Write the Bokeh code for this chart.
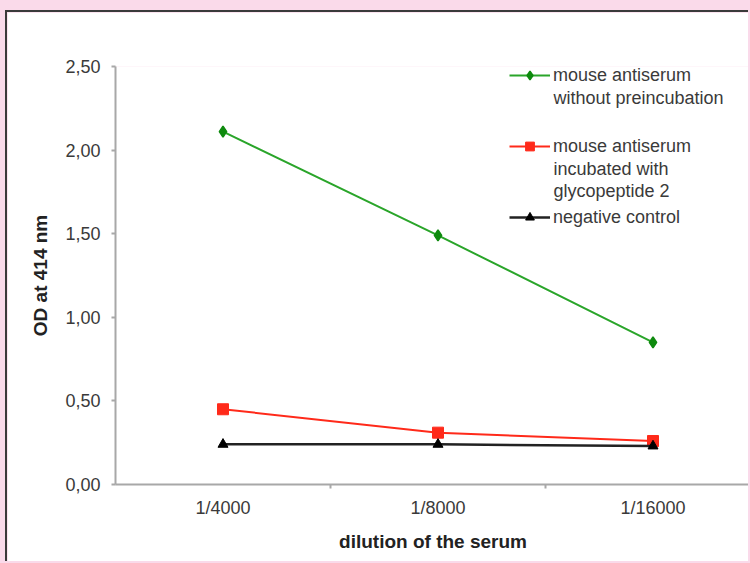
from bokeh.plotting import figure
from bokeh.models import Range1d, FixedTicker, Legend, LegendItem, Label
from bokeh.layouts import column
from bokeh.embed import file_html
from bokeh.resources import INLINE

# ---- data ----
categories = ["1/4000", "1/8000", "1/16000"]
green_values = [2.11, 1.49, 0.85]
red_values = [0.45, 0.31, 0.26]
black_values = [0.24, 0.24, 0.23]
y_ticks = [0.0, 0.5, 1.0, 1.5, 2.0, 2.5]
y_tick_labels = ["0,00", "0,50", "1,00", "1,50", "2,00", "2,50"]
green_label = ["mouse antiserum", "without preincubation"]
red_label = ["mouse antiserum", "incubated with", "glycopeptide 2"]
black_label = ["negative control"]
x_title = "dilution of the serum"
y_title = "OD at 414 nm"

# ---- style ----
FONT = "Liberation Sans"
PINK = "#fadaea"
TXT = "#3a3a3a"
AXIS = "#a8a8a8"
GREEN_LINE = "#2aa52a"
GREEN_MARK = "#0e8a0e"
RED = "#ff2a1a"
BLACK = "#222222"

CAT_PX = 215          # pixel width of one category slot
FIG_W, FIG_H = 743, 551
MB_LEFT, MB_TOP, MB_BOTTOM = 108, 54, 79
FRAME_W = FIG_W - MB_LEFT
FRAME_H = FIG_H - MB_TOP - MB_BOTTOM

x_pos = [i + 0.5 for i in range(len(categories))]

p = figure(width=FIG_W, height=FIG_H,
           x_range=Range1d(0, FRAME_W / CAT_PX), y_range=Range1d(0, 2.5),
           output_backend="svg", toolbar_location=None,
           min_border_left=MB_LEFT, min_border_top=MB_TOP,
           min_border_bottom=MB_BOTTOM, min_border_right=0,
           background_fill_color="white", border_fill_color="white")
p.outline_line_color = None
p.grid.visible = False

# lines + markers
gl = p.line(x_pos, green_values, line_color=GREEN_LINE, line_width=2)
gm = p.scatter(x_pos, green_values, marker="diamond", size=11,
               fill_color=GREEN_MARK, line_color=GREEN_MARK, line_width=1.5)
rl = p.line(x_pos, red_values, line_color=RED, line_width=2)
rm = p.scatter(x_pos, red_values, marker="square", size=11,
               fill_color=RED, line_color=RED)
bl = p.line(x_pos, black_values, line_color=BLACK, line_width=2.5)
bm = p.scatter(x_pos, black_values, marker="triangle", size=10,
               fill_color="black", line_color="black")

# x axis
xa = p.xaxis[0]
xa.ticker = FixedTicker(ticks=x_pos, minor_ticks=list(range(1, len(categories))))
xa.major_label_overrides = {x: c for x, c in zip(x_pos, categories)}
xa.major_tick_out = 0
xa.major_tick_in = 0
xa.minor_tick_out = 4
xa.minor_tick_in = 0
xa.minor_tick_line_color = AXIS
xa.minor_tick_line_width = 2
xa.axis_line_color = AXIS
xa.axis_line_width = 2
xa.major_label_standoff = 9
xa.major_label_text_font = FONT
xa.major_label_text_font_size = "18px"
xa.major_label_text_color = TXT
xa.axis_label = x_title
xa.axis_label_text_font = FONT
xa.axis_label_text_font_size = "19px"
xa.axis_label_text_font_style = "bold"
xa.axis_label_text_color = "#222222"
xa.axis_label_standoff = 10

# y axis
ya = p.yaxis[0]
ya.ticker = FixedTicker(ticks=y_ticks, minor_ticks=[])
ya.major_label_overrides = {t: l for t, l in zip(y_ticks, y_tick_labels)}
ya.major_tick_out = 4
ya.major_tick_in = 0
ya.major_tick_line_color = AXIS
ya.major_tick_line_width = 2
ya.axis_line_color = AXIS
ya.axis_line_width = 2
ya.major_label_standoff = 11
ya.major_label_text_font = FONT
ya.major_label_text_font_size = "18px"
ya.major_label_text_color = TXT
ya.axis_label = y_title
ya.axis_label_text_font = FONT
ya.axis_label_text_font_size = "19px"
ya.axis_label_text_font_style = "bold"
ya.axis_label_text_color = "#222222"
ya.axis_label_standoff = 11

# legend
ROW_H = 22
SPACING = 49
LINE_H = 22
LEG_X = 394
n_items = 3
leg_h = n_items * ROW_H + (n_items - 1) * SPACING
LEG_TOP = FRAME_H + 2          # legend top, measured from frame bottom
LEG_Y = LEG_TOP - leg_h        # legend bottom, measured from frame bottom

legend = Legend(items=[
    LegendItem(label=green_label[0], renderers=[gl, gm]),
    LegendItem(label=red_label[0], renderers=[rl, rm]),
    LegendItem(label=black_label[0], renderers=[bl, bm]),
], location=(LEG_X, LEG_Y))
legend.padding = 0
legend.margin = 0
legend.spacing = SPACING
legend.glyph_height = ROW_H
legend.label_height = ROW_H
legend.glyph_width = 41
legend.label_standoff = 3
legend.border_line_alpha = 0
legend.background_fill_alpha = 0
legend.label_text_font = FONT
legend.label_text_font_size = "18px"
legend.label_text_color = TXT
p.add_layout(legend, "center")

# continuation lines of legend labels
for i, lines in enumerate([green_label, red_label, black_label]):
    center = LEG_TOP - ROW_H / 2 - i * (ROW_H + SPACING)
    for j, txt in enumerate(lines[1:], start=1):
        p.add_layout(Label(x=LEG_X + 41 + 3, y=center - j * LINE_H,
                           x_units="screen", y_units="screen", text=txt,
                           text_font=FONT, text_font_size="18px",
                           text_color=TXT, text_baseline="middle",
                           text_align="left"))

p.margin = (10, 0, 0, 5)
p.styles = {"border-top": "2px solid #3a3a3a", "border-left": "2px solid #3a3a3a"}
layout = column(p, width=750, height=563, styles={"background-color": PINK})

open("out.html", "w").write(file_html(layout, INLINE))
